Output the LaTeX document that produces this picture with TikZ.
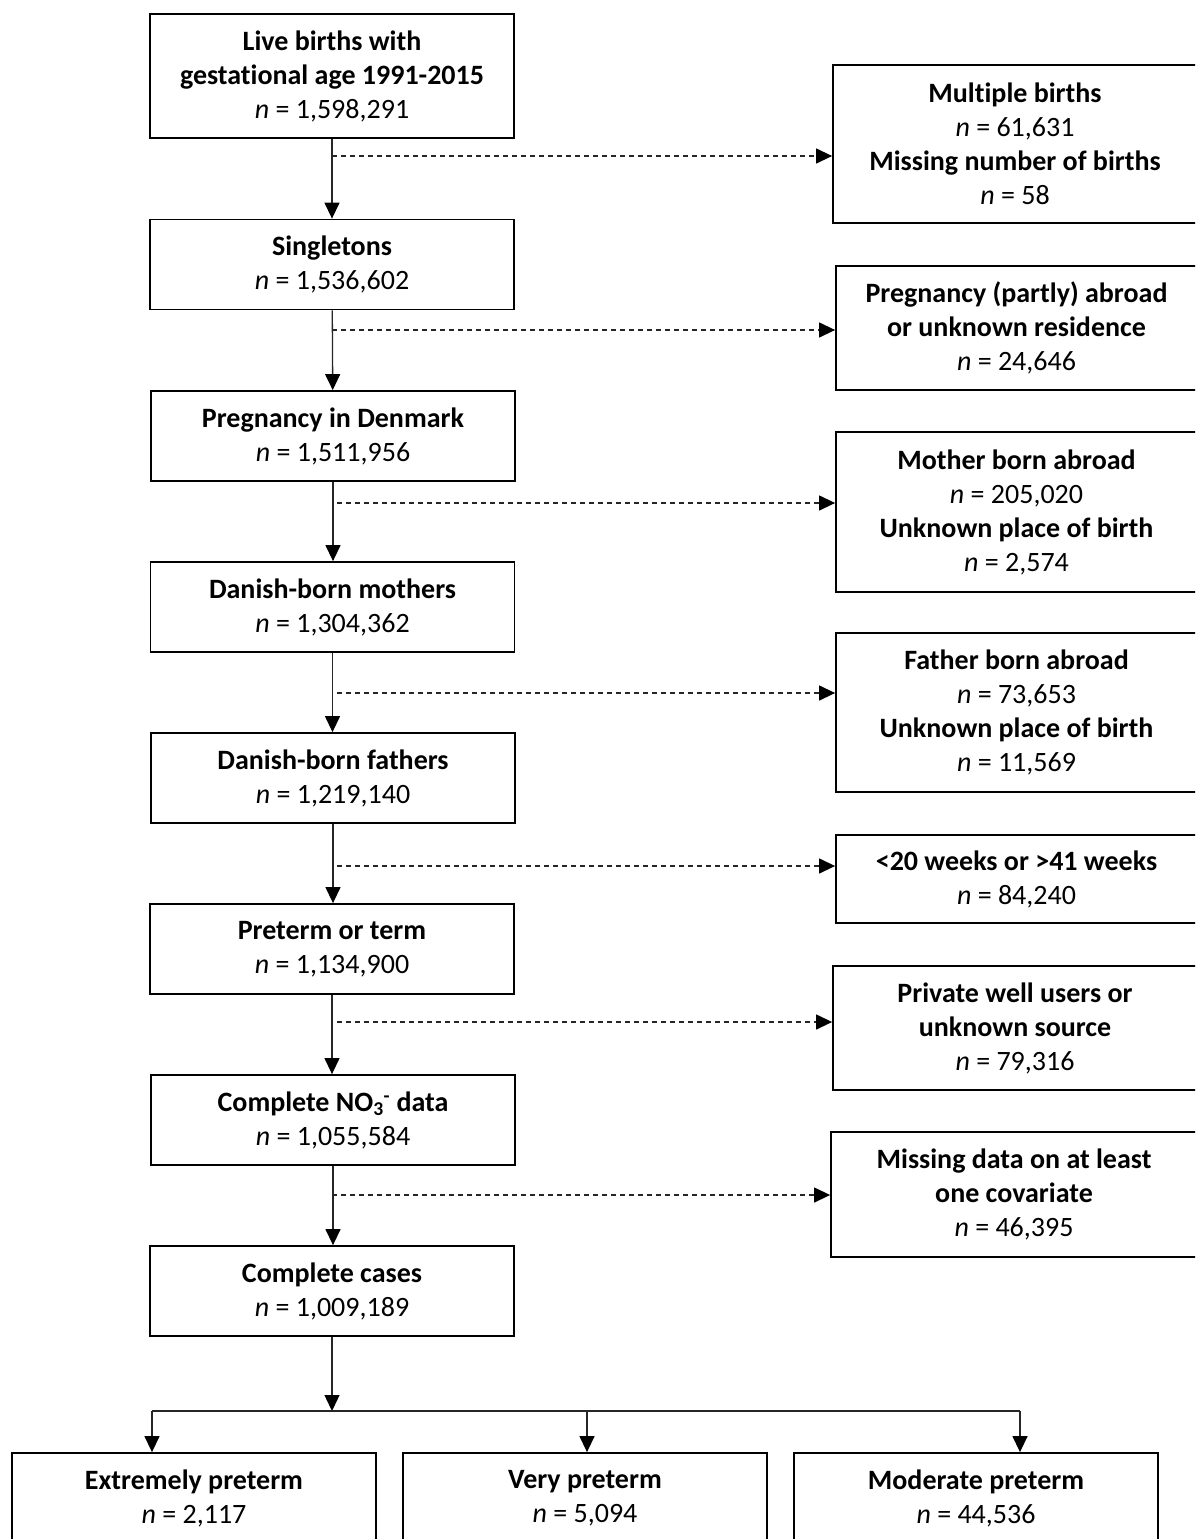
\documentclass[tikz,border=0pt]{standalone}
\usepackage{fontspec}
\setmainfont[Ligatures={NoCommon}]{Carlito}
\usetikzlibrary{arrows.meta}
\newcommand\nval[1]{{\mdseries\textit{n} = #1}}
\tikzset{
  box/.style={draw=black, line width=1.8pt, rectangle, inner sep=0pt, align=center,
    font=\bfseries\fontsize{28}{34}\selectfont},
  lbox/.style={box, minimum width=364, minimum height=90},
  flow/.style={draw=black!85, line width=1.3pt, -{Triangle[length=16pt,width=15pt,fill=black,color=black]}},
  excl/.style={flow, dash pattern=on 5pt off 4pt},
  plain/.style={draw=black!85, line width=1.3pt}
}
\begin{document}
\begin{tikzpicture}[x=1pt,y=-1pt]
\useasboundingbox (0,0) rectangle (1195,1539);
\clip (0,0) rectangle (1195,1539);
\fill[white] (0,0) rectangle (1195,1539);
% left column
\node[lbox, minimum height=124] (n1) at (332,76) {Live births with\\gestational age 1991-2015\\\nval{1,598,291}};
\node[lbox] (n2) at (332,264.5) {Singletons\\\nval{1,536,602}};
\node[lbox] (n3) at (333,436) {Pregnancy in Denmark\\\nval{1,511,956}};
\node[lbox] (n4) at (332.5,607) {Danish-born mothers\\\nval{1,304,362}};
\node[lbox] (n5) at (333,778) {Danish-born fathers\\\nval{1,219,140}};
\node[lbox] (n6) at (332,949) {Preterm or term\\\nval{1,134,900}};
\node[lbox] (n7) at (333,1120) {Complete NO\textsubscript{3}\textsuperscript{-} data\\\nval{1,055,584}};
\node[lbox] (n8) at (332,1291) {Complete cases\\\nval{1,009,189}};
% right column
\node[box, minimum width=364, minimum height=158] (r1) at (1015,144) {Multiple births\\\nval{61,631}\\Missing number of births\\\nval{58}};
\node[box, minimum width=361, minimum height=124] (r2) at (1016.5,328) {Pregnancy (partly) abroad\\or unknown residence\\\nval{24,646}};
\node[box, minimum width=361, minimum height=160] (r3) at (1016.5,512) {Mother born abroad\\\nval{205,020}\\Unknown place of birth\\\nval{2,574}};
\node[box, minimum width=361, minimum height=159] (r4) at (1016.5,712.5) {Father born abroad\\\nval{73,653}\\Unknown place of birth\\\nval{11,569}};
\node[box, minimum width=361, minimum height=88] (r5) at (1016.5,879) {<20 weeks or >41 weeks\\\nval{84,240}};
\node[box, minimum width=364, minimum height=124] (r6) at (1015,1028) {Private well users or\\unknown source\\\nval{79,316}};
\node[box, minimum width=366, minimum height=125] (r7) at (1014,1194.5) {Missing data on at least\\one covariate\\\nval{46,395}};
% bottom
\node[lbox] (b1) at (194,1498) {Extremely preterm\\\nval{2,117}};
\node[lbox] (b2) at (585,1498) {Very preterm\\\nval{5,094}};
\node[lbox] (b3) at (976,1498) {Moderate preterm\\\nval{44,536}};
% vertical flow
\draw[flow] (n1) -- (n2);
\draw[flow] (n2) -- (n3);
\draw[flow] (n3.south) -- (n4.north -| n3.south);
\draw[flow] (n4.south) -- (n5.north -| n4.south);
\draw[flow] (n5.south) -- (n6.north -| n5.south);
\draw[flow] (n6.south) -- (n7.north -| n6.south);
\draw[flow] (n7.south) -- (n8.north -| n7.south);
% exclusions
\coordinate (d1) at (332,156);
\coordinate (d2) at (332,330);
\coordinate (d3) at (337,503);
\coordinate (d4) at (337,693);
\coordinate (d5) at (337,866);
\coordinate (d6) at (337,1022);
\coordinate (d7) at (332,1195);
\draw[excl] (d1) -- (d1 -| r1.west);
\draw[excl] (d2) -- (d2 -| r2.west);
\draw[excl] (d3) -- (d3 -| r3.west);
\draw[excl] (d4) -- (d4 -| r4.west);
\draw[excl] (d5) -- (d5 -| r5.west);
\draw[excl] (d6) -- (d6 -| r6.west);
\draw[excl] (d7) -- (d7 -| r7.west);
% split
\coordinate (s) at (332,1411);
\coordinate (sl) at (152,1411);
\coordinate (sm) at (587,1411);
\coordinate (sr) at (1020,1411);
\draw[flow] (n8.south) -- (s);
\draw[plain] (sl) -- (sr);
\draw[flow] (sl) -- (sl |- b1.north);
\draw[flow] (sm) -- (sm |- b2.north);
\draw[flow] (sr) -- (sr |- b3.north);
\end{tikzpicture}
\end{document}
